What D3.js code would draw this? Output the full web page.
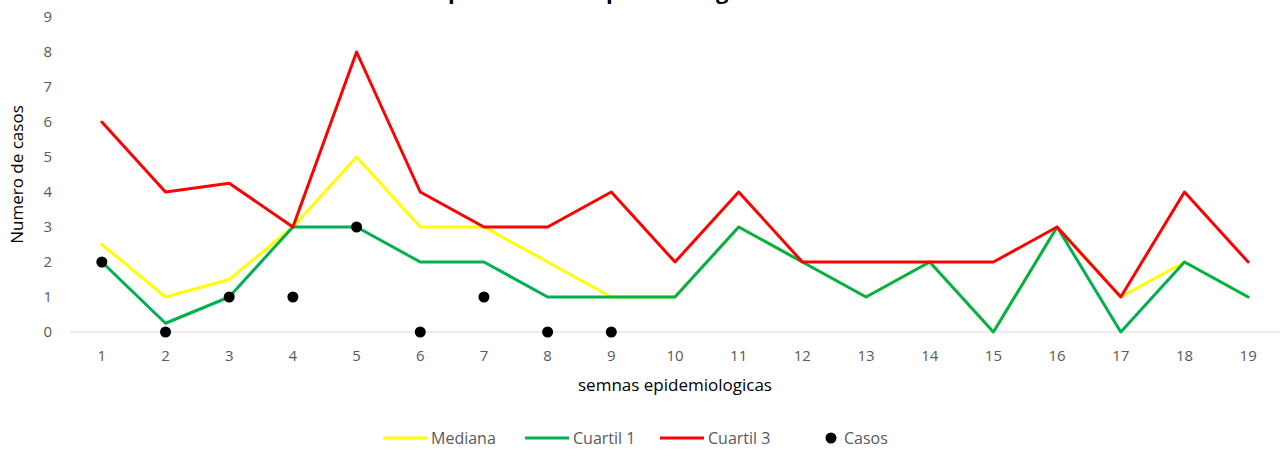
<!DOCTYPE html>
<html lang="es">
<head>
  <meta charset="UTF-8">
  <title>Canal endemico</title>
  <script src="https://d3js.org/d3.v7.min.js"></script>
  <style>
    body { margin: 0; background: #fff; }
    svg { display: block; }
    .tick text { fill: #595959; font-size: 15px; font-family: "Open Sans", sans-serif; }
  </style>
</head>
<body>
<svg width="1282" height="449"></svg>

<script>
  // semanas epidemiologicas
  const semanas = [1, 2, 3, 4, 5, 6, 7, 8, 9, 10, 11, 12, 13, 14, 15, 16, 17, 18, 19];
  const mediana = [2.5, 1, 1.5, 3, 5, 3, 3, 2, 1, 1, 3, 2, 1, 2, 0, 3, 1, 2, 1];
  const cuartil1 = [2, 0.25, 1, 3, 3, 2, 2, 1, 1, 1, 3, 2, 1, 2, 0, 3, 0, 2, 1];
  const cuartil3 = [6, 4, 4.25, 3, 8, 4, 3, 3, 4, 2, 4, 2, 2, 2, 2, 3, 1, 4, 2];
  const casos = [2, 0, 1, 1, 3, 0, 1, 0, 0];
  const yTicks = [0, 1, 2, 3, 4, 5, 6, 7, 8, 9];

  const svg = d3.select("svg");
  const mLeft = 70, mRight = 1280, mTop = 17, mBottom = 332;

  const x = d3.scaleBand().domain(semanas).range([mLeft, mRight]);
  const y = d3.scaleLinear().domain([0, 9]).range([mBottom, mTop]);
  const cx = d => x(d) + x.bandwidth() / 2;

  // titulo (cortado arriba)
  svg.append("text")
    .attr("x", 640).attr("y", -1)
    .attr("text-anchor", "middle")
    .style("font-family", "Open Sans, sans-serif")
    .style("font-weight", "bold")
    .style("font-size", "22px")
    .style("fill", "#000")
    .text("Comportamiento epidemiologico del evento");

  // eje y
  const yAxis = svg.append("g")
    .attr("transform", `translate(${mLeft},0)`)
    .call(d3.axisLeft(y).tickValues(yTicks).tickSize(0).tickPadding(18));
  yAxis.select(".domain").remove();

  // linea base
  svg.append("line")
    .attr("x1", mLeft).attr("x2", mRight)
    .attr("y1", y(0)).attr("y2", y(0))
    .attr("stroke", "#d9d9d9").attr("stroke-width", 1);

  // eje x
  const xAxis = svg.append("g")
    .attr("transform", `translate(0,${mBottom})`)
    .call(d3.axisBottom(x).tickSize(0).tickPadding(18));
  xAxis.select(".domain").remove();

  // titulos de ejes
  svg.append("text")
    .attr("transform", `translate(23,${(mTop + mBottom) / 2}) rotate(-90)`)
    .attr("text-anchor", "middle")
    .style("font-family", "Open Sans, sans-serif")
    .style("font-size", "17px")
    .style("fill", "#000")
    .text("Numero de casos");

  svg.append("text")
    .attr("x", 675).attr("y", 391)
    .attr("text-anchor", "middle")
    .style("font-family", "Open Sans, sans-serif")
    .style("font-size", "17px")
    .style("fill", "#000")
    .text("semnas epidemiologicas");

  // series
  const series = [
    { name: "Mediana", values: mediana, color: "#ffff00" },
    { name: "Cuartil 1", values: cuartil1, color: "#00b050" },
    { name: "Cuartil 3", values: cuartil3, color: "#ff0000" }
  ];

  const line = d3.line()
    .x((d, i) => cx(semanas[i]))
    .y(d => y(d));

  series.forEach(s => {
    svg.append("path")
      .datum(s.values)
      .attr("fill", "none")
      .attr("stroke", s.color)
      .attr("stroke-width", 3)
      .attr("stroke-linejoin", "round")
      .attr("stroke-linecap", "round")
      .attr("d", line);
  });

  svg.selectAll("circle.caso")
    .data(casos)
    .join("circle")
    .attr("class", "caso")
    .attr("cx", (d, i) => cx(semanas[i]))
    .attr("cy", d => y(d))
    .attr("r", 5.5)
    .attr("fill", "#000");

  // leyenda
  const legendItems = [
    { name: "Mediana", color: "#ffff00", x: 383, type: "line" },
    { name: "Cuartil 1", color: "#00b050", x: 525, type: "line" },
    { name: "Cuartil 3", color: "#ff0000", x: 660, type: "line" },
    { name: "Casos", color: "#000", x: 810, type: "dot" }
  ];
  const ly = 438;
  legendItems.forEach(l => {
    if (l.type === "line") {
      svg.append("line")
        .attr("x1", l.x).attr("x2", l.x + 44)
        .attr("y1", ly).attr("y2", ly)
        .attr("stroke", l.color).attr("stroke-width", 3);
      svg.append("text")
        .attr("x", l.x + 48).attr("y", ly + 6)
        .style("font-family", "Open Sans, sans-serif")
        .style("font-size", "16px")
        .style("fill", "#595959")
        .text(l.name);
    } else {
      svg.append("circle")
        .attr("cx", l.x + 21).attr("cy", ly)
        .attr("r", 5.5).attr("fill", l.color);
      svg.append("text")
        .attr("x", l.x + 34).attr("y", ly + 6)
        .style("font-family", "Open Sans, sans-serif")
        .style("font-size", "16px")
        .style("fill", "#595959")
        .text(l.name);
    }
  });
</script>
</body>
</html>
